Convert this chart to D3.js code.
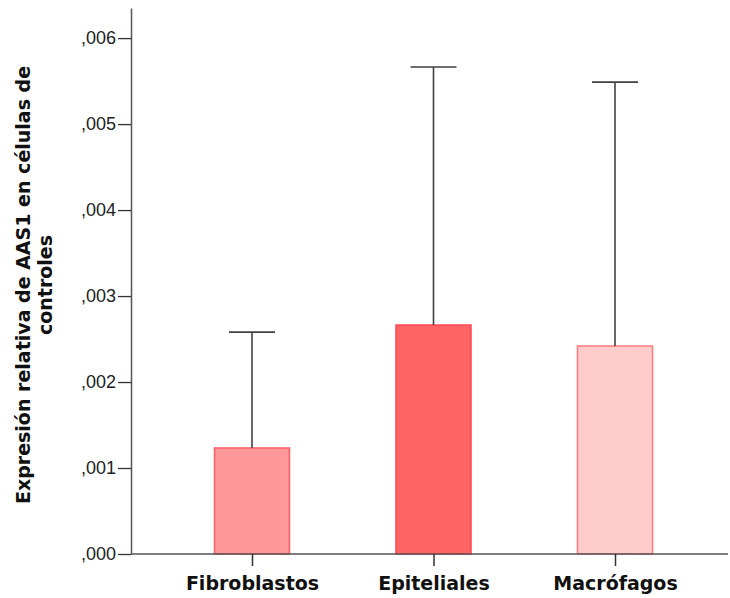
<!DOCTYPE html>
<html>
<head>
<meta charset="utf-8">
<script src="https://cdn.jsdelivr.net/npm/d3@7"></script>
<style>
  body { margin: 0; background: #fff; }
  svg { display: block; }
</style>
</head>
<body>
<div id="chart"></div>
<script>
const categories = ["Fibroblastos", "Epiteliales", "Macrófagos"];
const means = [0.001233, 0.002663, 0.002419];
const upper = [0.00258, 0.005663, 0.005488];
const fills = ["#ff9898", "#ff6464", "#ffcccc"];
const strokes = ["#ff5c66", "#ff4450", "#ff7a80"];
const yTicks = [0, 0.001, 0.002, 0.003, 0.004, 0.005, 0.006];
const yTickLabels = [",000", ",001", ",002", ",003", ",004", ",005", ",006"];
const titleLines = ["Expresión relativa de AAS1 en células de", "controles"];

const width = 730;
const height = 598;
const margin = { top: 8, right: 2, bottom: 44, left: 131 };

const svg = d3
  .select("#chart")
  .append("svg")
  .attr("width", width)
  .attr("height", height);

const yScale = d3
  .scaleLinear()
  .domain([0, 0.00635])
  .range([height - margin.bottom, margin.top]);

const xScale = d3
  .scalePoint()
  .domain(categories)
  .range([252, 615]);

const barWidth = 75;
const capWidth = 46;

// y axis
const yAxis = svg
  .append("g")
  .attr("transform", `translate(${margin.left}, 0)`)
  .call(
    d3.axisLeft(yScale)
      .tickValues(yTicks)
      .tickFormat((d, i) => yTickLabels[i])
      .tickSize(13)
      .tickSizeOuter(0)
      .tickPadding(2)
  );
yAxis.select(".domain").attr("stroke", "#555").attr("stroke-width", 1.5);
yAxis.selectAll(".tick line").attr("stroke", "#333").attr("stroke-width", 1.3);
yAxis
  .selectAll(".tick text")
  .attr("fill", "#222")
  .style("font-family", "'Liberation Sans', Arial, sans-serif")
  .style("font-size", "18px");

// bars
const bars = svg.append("g");
bars
  .selectAll("rect")
  .data(categories)
  .join("rect")
  .attr("x", (d) => xScale(d) - barWidth / 2)
  .attr("y", (d, i) => yScale(means[i]))
  .attr("width", barWidth)
  .attr("height", (d, i) => yScale(0) - yScale(means[i]))
  .attr("fill", (d, i) => fills[i])
  .attr("stroke", (d, i) => strokes[i])
  .attr("stroke-width", 1.5);

// error bars
const errs = svg.append("g").attr("stroke", "#404040").attr("stroke-width", 1.6);
errs
  .selectAll("line.stem")
  .data(categories)
  .join("line")
  .attr("class", "stem")
  .attr("x1", (d) => xScale(d))
  .attr("x2", (d) => xScale(d))
  .attr("y1", (d, i) => yScale(means[i]))
  .attr("y2", (d, i) => yScale(upper[i]));
errs
  .selectAll("line.cap")
  .data(categories)
  .join("line")
  .attr("class", "cap")
  .attr("x1", (d) => xScale(d) - capWidth / 2)
  .attr("x2", (d) => xScale(d) + capWidth / 2)
  .attr("y1", (d, i) => yScale(upper[i]))
  .attr("y2", (d, i) => yScale(upper[i]));

// x axis
svg
  .append("line")
  .attr("x1", margin.left)
  .attr("x2", width - margin.right)
  .attr("y1", yScale(0))
  .attr("y2", yScale(0))
  .attr("stroke", "#555")
  .attr("stroke-width", 1.5);

const xAxis = svg
  .append("g")
  .attr("transform", `translate(0, ${yScale(0)})`)
  .call(d3.axisBottom(xScale).tickSize(12).tickSizeOuter(0).tickPadding(6));
xAxis.select(".domain").remove();
xAxis.selectAll(".tick line").attr("stroke", "#333").attr("stroke-width", 1.5);
xAxis
  .selectAll(".tick text")
  .attr("fill", "#111")
  .attr("dy", "0.95em")
  .style("font-family", "'DejaVu Sans', sans-serif")
  .style("font-weight", "bold")
  .style("font-size", "19px");

// y axis title
const titleY = 285;
svg
  .append("g")
  .selectAll("text")
  .data(titleLines)
  .join("text")
  .attr("transform", (d, i) => `translate(${30 + i * 22}, ${titleY}) rotate(-90)`)
  .attr("text-anchor", "middle")
  .attr("fill", "#111")
  .style("font-family", "'DejaVu Sans', sans-serif")
  .style("font-weight", "bold")
  .style("font-size", "19px")
  .text((d) => d);
</script>
</body>
</html>
